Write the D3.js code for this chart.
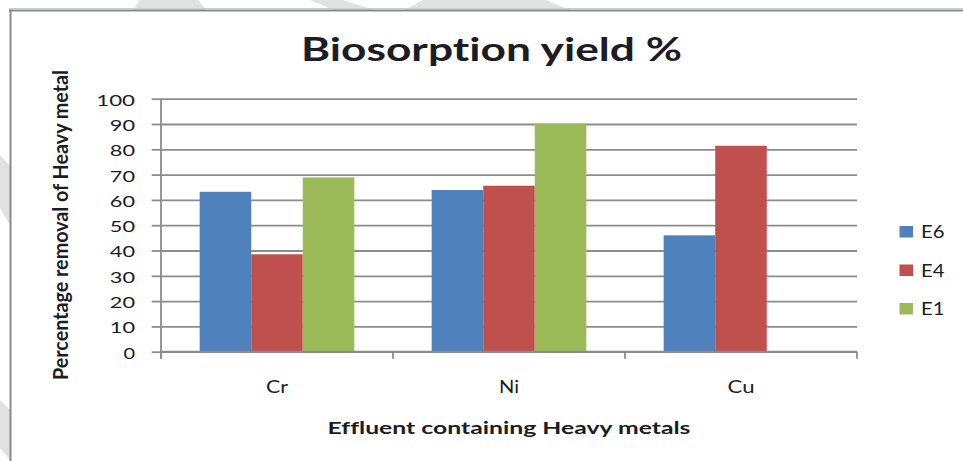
<!DOCTYPE html>
<html>
<head>
<meta charset="utf-8">
<script src="https://cdn.jsdelivr.net/npm/d3@7"></script>
<style>
  html, body { margin: 0; padding: 0; background: #fff; }
  svg { display: block; }
  text { font-family: Lato, "Open Sans", sans-serif; fill: #1c1c24; font-variant-ligatures: none; font-feature-settings: "liga" 0, "clig" 0; }
</style>
</head>
<body>
<svg id="chart" width="963" height="461"></svg>
<script>
// Biosorption yield (%) per heavy metal for three effluent strains
const categories = ["Cr", "Ni", "Cu"];
const seriesNames = ["E6", "E4", "E1"];
const valuesE6 = [63.2, 63.9, 46.0];
const valuesE4 = [38.5, 65.6, 81.4];
const valuesE1 = [68.9, 90.1, null];
const yTicks = [0, 10, 20, 30, 40, 50, 60, 70, 80, 90, 100];
const seriesColors = ["#4F81BD", "#C0504D", "#9BBB59"];

const seriesValues = [valuesE6, valuesE4, valuesE1];
const rows = categories.map((c, i) => ({
  cat: c,
  vals: seriesNames.map((s, j) => ({ s, v: seriesValues[j][i] }))
}));

const svg = d3.select("#chart");

// faint diagonal watermark shapes around the frame
const wm = [
  [[140,0],[198,0],[206,10],[133,10]],
  [[310,0],[343,0],[374,10],[334,10]],
  [[423,0],[546,0],[570,10],[405,10]],
  [[0,155],[10,166],[10,225],[0,208]],
  [[0,400],[10,410],[10,460],[0,448]]
];
svg.selectAll("polygon.wm").data(wm).join("polygon")
  .attr("class", "wm")
  .attr("points", d => d.map(p => p.join(",")).join(" "))
  .attr("fill", "#e1e1e1");

// chart frame
svg.append("rect").attr("x", 11).attr("y", 11).attr("width", 952).attr("height", 450).attr("fill", "#fff");
svg.append("line").attr("x1", 9).attr("x2", 963).attr("y1", 8.5).attr("y2", 8.5).attr("stroke", "#c8d0dc").attr("stroke-width", 1);
svg.append("line").attr("x1", 9).attr("x2", 963).attr("y1", 10.5).attr("y2", 10.5).attr("stroke", "#8a8a8a").attr("stroke-width", 2);
svg.append("line").attr("x1", 10.5).attr("x2", 10.5).attr("y1", 9.5).attr("y2", 461).attr("stroke", "#8a8a8a").attr("stroke-width", 2);

const plotLeft = 161, plotRight = 857, plotTop = 98.7, plotBottom = 351.7;

const y = d3.scaleLinear().domain([0, 100]).range([plotBottom, plotTop]);
const x0 = d3.scaleBand().domain(categories).range([plotLeft, plotRight]).padding(0);
const x1 = d3.scaleBand().domain(seriesNames).range([0, x0.bandwidth()])
  .paddingInner(0).paddingOuter(0.75);
const color = d3.scaleOrdinal().domain(seriesNames).range(seriesColors);

const gridColor = "#8c8c8c";

// horizontal gridlines
const grid = svg.append("g").attr("transform", `translate(${plotLeft},0)`)
  .call(d3.axisLeft(y).tickValues(yTicks).tickSize(-(plotRight - plotLeft)).tickFormat(""));
grid.select(".domain").remove();
grid.selectAll("line").attr("stroke", gridColor).attr("stroke-width", 1.8);

// y axis with tick marks and labels
const yAxis = svg.append("g").attr("transform", `translate(${plotLeft},0)`)
  .call(d3.axisLeft(y).tickValues(yTicks).tickSize(9.3).tickPadding(16.7));
yAxis.select(".domain").remove();
yAxis.selectAll("line").attr("stroke", gridColor).attr("stroke-width", 1.8);
yAxis.selectAll("text")
  .attr("dy", "0.43em")
  .style("font-size", "15px")
  .attr("fill", "#1c1c24")
  .each(function(d) {
    const n = String(d).length;
    d3.select(this).attr("textLength", 13.6 * n - 2).attr("lengthAdjust", "spacingAndGlyphs");
  });

// bars
const groups = svg.append("g").selectAll("g").data(rows).join("g")
  .attr("transform", d => `translate(${x0(d.cat)},0)`);
groups.selectAll("rect").data(d => d.vals.filter(e => e.v != null)).join("rect")
  .attr("x", d => x1(d.s))
  .attr("width", x1.bandwidth())
  .attr("y", d => y(d.v))
  .attr("height", d => y(0) - y(d.v))
  .attr("fill", d => color(d.s));

// axis lines
svg.append("line").attr("x1", plotLeft).attr("x2", plotLeft).attr("y1", plotTop).attr("y2", plotBottom + 7)
  .attr("stroke", gridColor).attr("stroke-width", 1.8);
svg.append("line").attr("x1", plotLeft).attr("x2", plotRight).attr("y1", plotBottom).attr("y2", plotBottom)
  .attr("stroke", gridColor).attr("stroke-width", 1.8);

// category boundary ticks
const bounds = categories.map(c => x0(c)).concat([x0(categories[categories.length - 1]) + x0.bandwidth()]);
svg.append("g").selectAll("line").data(bounds).join("line")
  .attr("x1", d => d).attr("x2", d => d)
  .attr("y1", plotBottom).attr("y2", plotBottom + 7)
  .attr("stroke", gridColor).attr("stroke-width", 1.8);

// category labels
const catWidths = { Cr: 22, Ni: 20, Cu: 27 };
const xAxis = svg.append("g").attr("transform", `translate(0,${plotBottom})`)
  .call(d3.axisBottom(x0).tickSize(0).tickPadding(29.5));
xAxis.select(".domain").remove();
xAxis.selectAll("text")
  .style("font-size", "17px")
  .attr("fill", "#1c1c24")
  .attr("textLength", d => catWidths[d])
  .attr("lengthAdjust", "spacingAndGlyphs");

// title
svg.append("text")
  .attr("x", 491.5).attr("y", 61)
  .attr("text-anchor", "middle")
  .style("font-size", "32px").style("font-weight", "bold")
  .attr("fill", "#000")
  .attr("textLength", 381).attr("lengthAdjust", "spacingAndGlyphs")
  .text("Biosorption yield %");

// x axis title
svg.append("text")
  .attr("x", 509).attr("y", 434)
  .attr("text-anchor", "middle")
  .style("font-size", "17px").style("font-weight", "bold")
  .attr("fill", "#000")
  .attr("textLength", 363).attr("lengthAdjust", "spacingAndGlyphs")
  .text("Effluent containing  Heavy metals");

// y axis title
svg.append("text")
  .attr("transform", "translate(67.5,225) rotate(-90)")
  .attr("text-anchor", "middle")
  .style("font-size", "21px").style("font-weight", "bold")
  .attr("fill", "#000")
  .attr("textLength", 310).attr("lengthAdjust", "spacingAndGlyphs")
  .text("Percentage removal of Heavy metal");

// legend
const legendY = d3.scalePoint().domain(seriesNames).range([232, 309]);
const legend = svg.append("g").selectAll("g").data(seriesNames).join("g")
  .attr("transform", d => `translate(899.5,${legendY(d)})`);
legend.append("rect")
  .attr("x", 0).attr("y", -6).attr("width", 13.5).attr("height", 11.5)
  .attr("fill", d => color(d));
legend.append("text")
  .attr("x", 21.5).attr("y", 6)
  .style("font-size", "16.5px")
  .attr("fill", "#1c1c24")
  .attr("textLength", 23.5).attr("lengthAdjust", "spacingAndGlyphs")
  .text(d => d);
</script>
</body>
</html>
